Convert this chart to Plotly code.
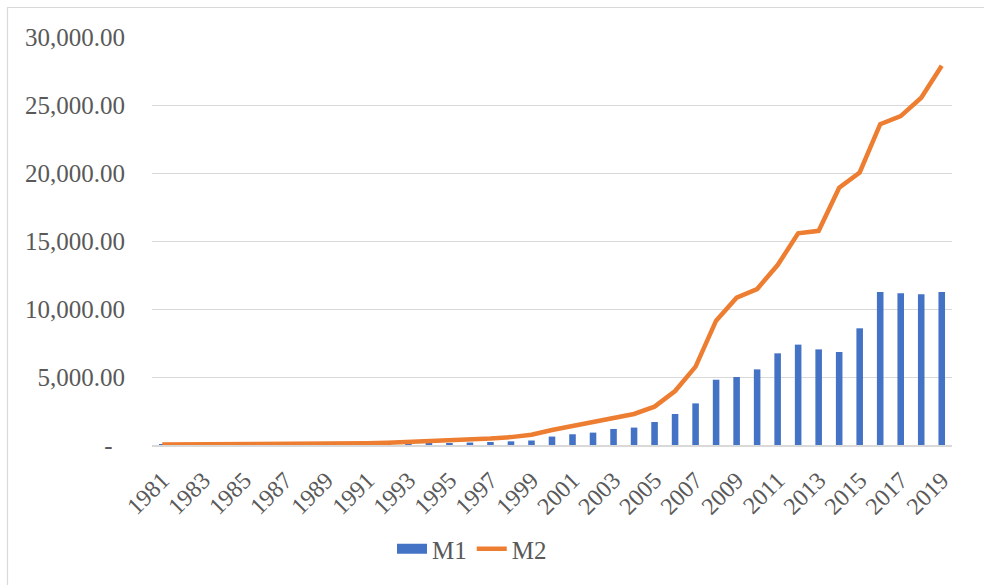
import plotly.graph_objects as go

# Money supply series, 1981-2019
years = [str(y) for y in range(1981, 2020)]

m1 = [10, 12, 14, 18, 20, 22, 25, 28, 30, 40,
      50, 65, 85, 110, 140, 180, 220, 270, 330, 620,
      790, 910, 1180, 1280, 1690, 2280, 3060, 4800, 5000, 5560,
      6740, 7380, 7030, 6840, 8580, 11250, 11150, 11080, 11250]

m2 = [30, 35, 40, 55, 60, 65, 70, 75, 80, 110,
      130, 170, 220, 290, 360, 420, 480, 580, 760, 1100,
      1380, 1650, 2000, 2280, 2820, 3970, 5760, 9140, 10830, 11470,
      13230, 15560, 15750, 18910, 20040, 23590, 24180, 25530, 27880]

y_tick_vals = [0, 5000, 10000, 15000, 20000, 25000, 30000]
y_tick_text = ["-\u00a0\u00a0", "5,000.00", "10,000.00", "15,000.00",
               "20,000.00", "25,000.00", "30,000.00"]
x_tick_vals = years[::2]

BLUE = "#4472C4"
ORANGE = "#ED7D31"
GRID = "#D9D9D9"
TEXT = "#595959"
FONT = "Liberation Serif, Times New Roman, serif"

fig = go.Figure()

fig.add_trace(go.Bar(
    x=years, y=m1, name="M1", marker=dict(color=BLUE, line=dict(width=0)),
    showlegend=False, legendgroup="m1",
))
fig.add_trace(go.Scatter(
    x=years, y=m2, name="M2", mode="lines",
    line=dict(color=ORANGE, width=4.5), legendrank=2,
))
# legend key for M1 drawn as a wide filled bar
fig.add_trace(go.Scatter(
    x=[None], y=[None], name="M1", mode="lines", legendgroup="m1",
    line=dict(color=BLUE, width=10), legendrank=1,
))

plot_l, plot_r, plot_t, plot_b = 152, 952, 37, 445
W, H = 984, 585
pw, ph = plot_r - plot_l, plot_b - plot_t

def px_x(x):
    return (x - plot_l) / pw

def px_y(y):
    return (plot_b - y) / ph

fig.update_layout(
    width=W, height=H,
    margin=dict(l=plot_l, r=W - plot_r, t=plot_t, b=H - plot_b, pad=0),
    paper_bgcolor="white", plot_bgcolor="white",
    font=dict(family=FONT, color=TEXT, size=24),
    bargap=0.68,
    showlegend=True,
    legend=dict(
        orientation="h", x=px_x(472), y=px_y(549),
        xanchor="center", yanchor="middle",
        font=dict(family=FONT, size=25, color=TEXT),
        itemwidth=30, tracegroupgap=0, bgcolor="rgba(0,0,0,0)",
    ),
    xaxis=dict(
        type="category", range=[-0.5, len(years) - 0.5],
        tickmode="array", tickvals=x_tick_vals, ticktext=x_tick_vals,
        tickangle=-45, tickfont=dict(family=FONT, size=24, color=TEXT),
        showgrid=False, showline=True, linecolor=GRID, linewidth=1.5,
        ticks="", ticklabelstandoff=10, automargin=False, fixedrange=True,
    ),
    yaxis=dict(
        range=[0, 30000], tickmode="array",
        tickvals=y_tick_vals, ticktext=y_tick_text,
        tickfont=dict(family=FONT, size=25, color=TEXT),
        showgrid=True, gridcolor=GRID, gridwidth=1,
        zeroline=False, showline=False, ticks="",
        ticklabelstandoff=26, automargin=False, fixedrange=True,
    ),
    shapes=[dict(
        type="rect", xref="paper", yref="paper",
        x0=px_x(7.5), x1=px_x(W + 20), y0=px_y(H + 20), y1=px_y(7.5),
        line=dict(color=GRID, width=1.2), fillcolor="rgba(0,0,0,0)",
        layer="below",
    )],
)

fig.write_html("out.html")
